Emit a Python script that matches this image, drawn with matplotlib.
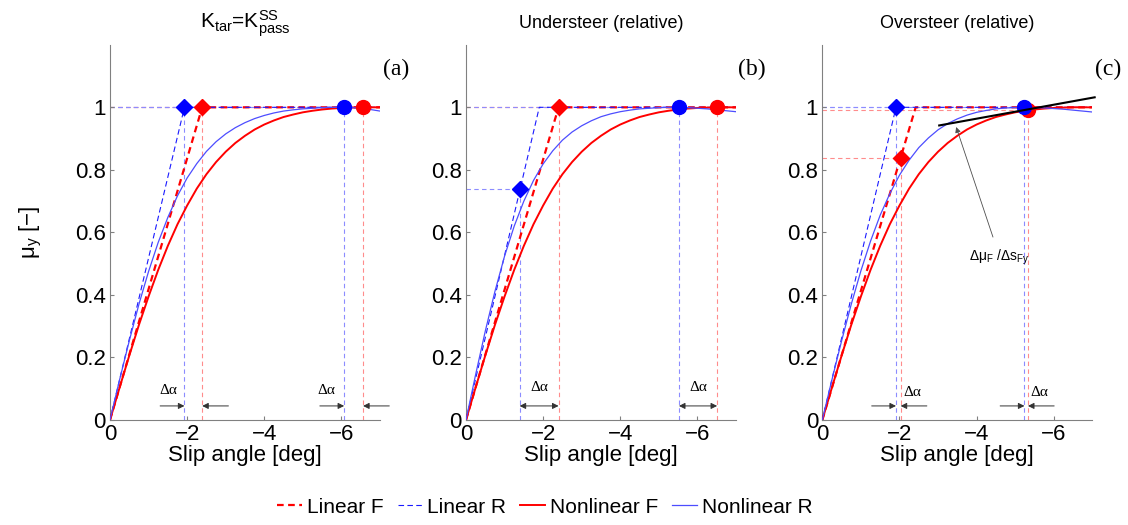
import matplotlib

matplotlib.use('Agg')

import matplotlib.pyplot as plt

plt.rcParams['font.family'] = ['Liberation Sans', 'DejaVu Sans']
plt.rcParams['mathtext.default'] = 'regular'

## slip angle grid [deg] and friction curves
alpha = [0, -0.25, -0.5, -0.75, -1.0, -1.25, -1.5, -1.75, -2.0, -2.25, -2.5, -2.75, -3.0,
         -3.25, -3.5, -3.75, -4.0, -4.25, -4.5, -4.75, -5.0, -5.25, -5.5, -5.75, -6.0,
         -6.25, -6.5, -6.75, -7.0]
mu_F = [0, .104, .206, .304, .395, .480, .557, .626, .686, .740, .786, .825, .858,
        .886, .909, .929, .945, .958, .969, .977, .984, .989, .993, .996, .998,
        .999, 1.000, 1.000, 1.000]
mu_R_a = [0, .129, .253, .370, .475, .568, .648, .717, .774, .820, .859, .890, .915,
          .935, .951, .964, .974, .982, .988, .992, .995, .997, .999, 1.000, 1.000,
          .999, .997, .993, .988]
mu_R_b = [0, .145, .284, .411, .524, .620, .700, .766, .819, .861, .895, .921, .941,
          .957, .970, .979, .986, .991, .995, .997, .999, 1.000, 1.000, .999, .997,
          .995, .992, .989, .986]
mu_R_c = [0, .129, .253, .370, .477, .572, .655, .724, .783, .831, .871, .902, .928,
          .948, .963, .975, .984, .990, .995, .998, .999, 1.000, .999, .998, .996,
          .994, .991, .988, .985]

# linear model saturation angle (mu = 1) per panel
lin_sat_F = [-2.39, -2.40, -2.42]
lin_sat_R = [-1.93, -1.90, -1.91]

# diamonds (linear) and circles (nonlinear) per panel: (x, y)
dia_F = [(-2.39, 1.0), (-2.40, 1.0), (-2.03, 0.838)]
dia_R = [(-1.93, 1.0), (-1.39, 0.74), (-1.91, 1.0)]
circ_F = [(-6.56, 1.0), (-6.51, 1.0), (-5.33, 0.99)]
circ_R = [(-6.07, 1.0), (-5.52, 1.0), (-5.24, 1.0)]

titles = ['K$_{tar}$=K$_{pass}^{SS}$', 'Understeer (relative)', 'Oversteer (relative)']
title_size = [15, 13, 13]
panel_tags = ['(a)', '(b)', '(c)']
arrow_kind = ['in', 'both', 'in']

# tangent line in (c)
tan_x = [-3.03, -7.06]
tan_y = [0.942, 1.032]

xticks = [0, -2, -4, -6]
yticks = [0, 0.2, 0.4, 0.6, 0.8, 1.0]
ytick_labels = ['0', '0.2', '0.4', '0.6', '0.8', '1']

RED = '#ff0000'
BLUE = '#1a1aff'
LBLUE_LINE = '#4d4dff'
LRED = '#ff8c8c'
LBLUE = '#8c8cff'
GRAY = '#808080'


def guides(ax, pt, color):
  x, y = pt
  ax.plot([0, x], [y, y], color=color, lw=0.8, dashes=(4, 3), zorder=1)
  ax.plot([x, x], [0, y], color=color, lw=0.8, dashes=(4, 3), zorder=1)


def delta_alpha(ax, x1, x2, kind):
  # x1 closer to zero, x2 further out
  ya = 0.045
  arr = dict(arrowstyle='-|>', color='0.2', lw=0.7, mutation_scale=9, shrinkA=0, shrinkB=0)
  if kind == 'both':
    ax.annotate('', xy=(x1, ya), xytext=(x2, ya), arrowprops=dict(arr, arrowstyle='<|-|>'))
    ax.text((x1 + x2) / 2, 0.105, 'Δα', family='Liberation Serif', fontsize=11,
            ha='center', va='center')
  else:
    ax.annotate('', xy=(x1, ya), xytext=(x1 + 0.63, ya), arrowprops=arr)
    ax.annotate('', xy=(x2, ya), xytext=(x2 - 0.68, ya), arrowprops=arr, annotation_clip=False)


def main():
  fig = plt.figure(figsize=(11.28, 5.25), dpi=100)
  lefts = [0.0975, 0.4131, 0.729]
  mu_R = [mu_R_a, mu_R_b, mu_R_c]
  handles = None
  for i in range(3):
    ax = fig.add_axes([lefts[i], 0.2, 0.2394, 0.7147])

    guides(ax, dia_F[i], LRED)
    guides(ax, circ_F[i], LRED)
    guides(ax, dia_R[i], LBLUE)
    guides(ax, circ_R[i], LBLUE)

    h1, = ax.plot([0, lin_sat_F[i], -7.2], [0, 1, 1], color=RED, lw=1.6,
                  dashes=(3, 2), label='Linear F', zorder=3)
    h2, = ax.plot([0, lin_sat_R[i], -7.2], [0, 1, 1], color=BLUE, lw=0.8,
                  dashes=(5, 3), label='Linear R', zorder=3)
    h3, = ax.plot(alpha, mu_F, color=RED, lw=1.4, label='Nonlinear F', zorder=3)
    h4, = ax.plot(alpha, mu_R[i], color=LBLUE_LINE, lw=0.9, label='Nonlinear R', zorder=3)
    if handles is None:
      handles = [h1, h2, h3, h4]

    ax.plot(*dia_F[i], marker='D', ms=8, color=RED, zorder=5)
    ax.plot(*circ_F[i], marker='o', ms=10, color=RED, zorder=5)
    ax.plot(*dia_R[i], marker='D', ms=8, color='#0000ff', zorder=6)
    ax.plot(*circ_R[i], marker='o', ms=10, color='#0000ff', zorder=6)

    # delta alpha annotations
    lo = [dia_R[i][0], circ_R[i][0]]
    hi = [dia_F[i][0], circ_F[i][0]]
    for k in range(2):
      delta_alpha(ax, lo[k], hi[k], arrow_kind[i])
    if arrow_kind[i] == 'in':
      if i == 0:
        for t in [lo[0] + 0.42, lo[1] + 0.47]:
          ax.text(t, 0.095, 'Δα', family='Liberation Serif', fontsize=11, ha='center', va='center')
      else:
        for k in range(2):
          ax.text(hi[k] - 0.07, 0.088, 'Δα', family='Liberation Serif', fontsize=11,
                  ha='left', va='center')

    if i == 2:
      ax.plot(tan_x, tan_y, color='k', lw=1.5, zorder=7, clip_on=False)
      ax.annotate('Δμ$_F$ /Δs$_{Fy}$', xy=(-3.47, 0.937), xytext=(-4.6, 0.52),
                  fontsize=10, ha='center', va='center',
                  arrowprops=dict(arrowstyle='-|>', color='0.3', lw=0.6,
                                  mutation_scale=8, shrinkA=6, shrinkB=0))

    ax.set_xlim(0, -7)
    ax.set_ylim(0, 1.2)
    ax.set_xticks(xticks)
    ax.set_yticks(yticks)
    ax.set_yticklabels(ytick_labels)
    for s in ['top', 'right']:
      ax.spines[s].set_visible(False)
    for s in ['left', 'bottom']:
      ax.spines[s].set_color(GRAY)
      ax.spines[s].set_linewidth(0.8)
    ax.tick_params(direction='in', length=3, color=GRAY, labelsize=16, pad=3)
    ax.set_xlabel('Slip angle [deg]', fontsize=16, labelpad=0)
    ax.set_title(titles[i], fontsize=title_size[i], pad=12)
    ax.text(1.06, 0.935, panel_tags[i], transform=ax.transAxes, family='Liberation Serif',
            fontsize=17, ha='center', va='center')
    if i == 0:
      ax.set_ylabel('μ$_y$ [−]', fontsize=16, labelpad=22)

  fig.legend(handles=handles, loc='lower center', bbox_to_anchor=(0.483, -0.02), ncol=4,
             frameon=False, fontsize=15, handlelength=1.2, handletextpad=0.2,
             columnspacing=0.7)
  fig.savefig('out.png', dpi=100)


if __name__ == '__main__':
  main()
